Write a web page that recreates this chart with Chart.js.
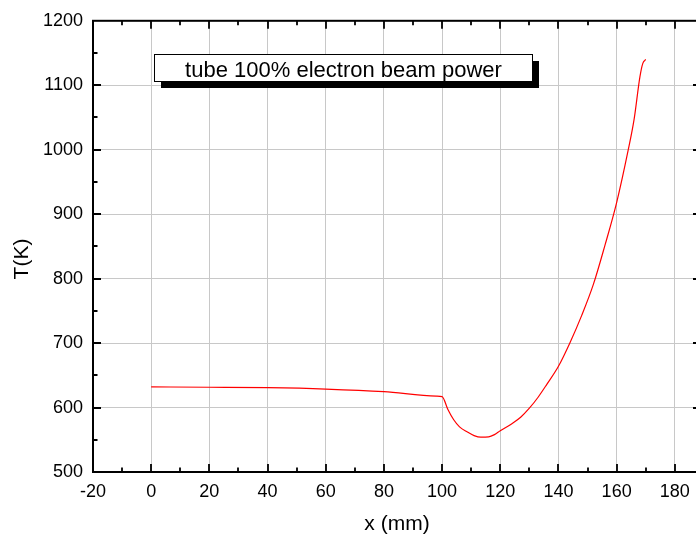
<!DOCTYPE html>
<html>
<head>
<meta charset="utf-8">
<title>T(K)</title>
<script src="https://cdn.jsdelivr.net/npm/chart.js@4/dist/chart.umd.min.js"></script>
<style>
  html, body { margin: 0; padding: 0; background: #fff; overflow: hidden; }
  canvas { display: block; }
</style>
</head>
<body>
<canvas id="grafico" width="704" height="538"></canvas>
<script>
// posicion a lo largo del tubo (mm) y temperatura (K)
const posX = [0, 20, 40, 60, 80, 98, 100, 102, 104, 106, 108.7, 111, 113.3, 116, 118, 120, 124, 127,
  130, 133, 136, 140, 144, 148, 152, 156, 160, 164, 166, 168, 169, 170];
const temperatura = [632, 631.5, 630.8, 628.7, 624.6, 617.8, 617, 597, 581, 570, 562, 556.5, 554, 554.5, 558, 564, 575, 585,
  599, 616, 636, 664, 701, 743, 791, 852, 918, 1000, 1047, 1113, 1134, 1140];

const ticksX = [-20, 0, 20, 40, 60, 80, 100, 120, 140, 160, 180];
const ticksY = [500, 600, 700, 800, 900, 1000, 1100, 1200];

const etiquetaLeyenda = "tube 100% electron beam power";
const tituloX = "x (mm)";
const tituloY = "T(K)";

const fuente = "'Liberation Sans', Arial, sans-serif";

function colorGrilla(ctx) {
  // sin linea de grilla sobre el marco
  const v = ctx.tick ? ctx.tick.value : null;
  if (v === -20 || v === 500 || v === 1200) return "rgba(0,0,0,0)";
  return "#c8c8c8";
}

// marco negro con marcas hacia adentro en los cuatro lados
const marco = {
  id: "marco",
  afterDraw(chart) {
    const ctx = chart.ctx;
    const a = chart.chartArea;
    const sx = chart.scales.x;
    const sy = chart.scales.y;
    ctx.save();
    ctx.strokeStyle = "#000";
    ctx.lineWidth = 2;
    ctx.strokeRect(a.left, a.top, a.right - a.left, a.bottom - a.top);

    ctx.lineWidth = 1.8;
    ctx.beginPath();
    for (let i = 0; i < ticksX.length; i++) {
      const v = ticksX[i];
      for (const [val, largo] of [[v, 8], [v + 10, 4.5]]) {
        if (val <= sx.min || val >= sx.max) continue;
        const px = Math.round(sx.getPixelForValue(val));
        ctx.moveTo(px, a.bottom); ctx.lineTo(px, a.bottom - largo);
        ctx.moveTo(px, a.top); ctx.lineTo(px, a.top + largo);
      }
    }
    for (let i = 0; i < ticksY.length; i++) {
      const v = ticksY[i];
      for (const [val, largo] of [[v, 8], [v + 50, 4.5]]) {
        if (val <= sy.min || val >= sy.max) continue;
        const py = Math.round(sy.getPixelForValue(val));
        ctx.moveTo(a.left, py); ctx.lineTo(a.left + largo, py);
        ctx.moveTo(a.right, py); ctx.lineTo(a.right - largo, py);
      }
    }
    ctx.stroke();

    // titulo del eje y
    ctx.fillStyle = "#000";
    ctx.font = "21px " + fuente;
    ctx.translate(22, 259);
    ctx.rotate(-Math.PI / 2);
    ctx.textAlign = "center";
    ctx.textBaseline = "middle";
    ctx.fillText(tituloY, 0, 0);
    ctx.restore();
  }
};

// cuadro de leyenda con sombra
const leyenda = {
  id: "leyenda",
  afterDraw(chart) {
    const ctx = chart.ctx;
    ctx.save();
    ctx.fillStyle = "#000";
    ctx.fillRect(161, 61, 378, 27);
    ctx.fillStyle = "#fff";
    ctx.fillRect(154, 54, 378, 27);
    ctx.strokeStyle = "#000";
    ctx.lineWidth = 1;
    ctx.strokeRect(154.5, 54.5, 378, 27);
    ctx.fillStyle = "#000";
    ctx.font = "22px " + fuente;
    ctx.textAlign = "center";
    ctx.textBaseline = "alphabetic";
    ctx.fillText(etiquetaLeyenda, 343.5, 77);
    ctx.restore();
  }
};

const puntos = posX.map((x, i) => ({ x: x, y: temperatura[i] }));

const config = {
  type: "line",
  data: {
    datasets: [{
      data: puntos,
      borderColor: "#ff0000",
      borderWidth: 1.2,
      pointRadius: 0,
      cubicInterpolationMode: "monotone",
      fill: false
    }]
  },
  options: {
    responsive: false,
    animation: false,
    devicePixelRatio: 1,
    layout: { padding: { top: 17, right: 3, left: 0, bottom: 0 } },
    plugins: { legend: { display: false }, tooltip: { enabled: false } },
    scales: {
      x: {
        type: "linear",
        min: -20,
        max: 189,
        afterBuildTicks: (s) => { s.ticks = ticksX.map(v => ({ value: v })); },
        afterFit: (s) => { s.height = 66; },
        grid: { color: colorGrilla, lineWidth: 1, drawTicks: false },
        border: { display: false },
        ticks: {
          padding: 9, color: "#000", autoSkip: false, maxRotation: 0,
          font: { family: fuente, size: 18 },
          callback: (v) => String(v)
        },
        title: {
          display: true, text: tituloX, color: "#000",
          font: { family: fuente, size: 21 },
          padding: { top: 0, bottom: 1 }
        }
      },
      y: {
        type: "linear",
        min: 500,
        max: 1200,
        afterBuildTicks: (s) => { s.ticks = ticksY.map(v => ({ value: v })); },
        afterFit: (s) => { s.width = 93; },
        grid: { color: colorGrilla, lineWidth: 1, drawTicks: false },
        border: { display: false },
        ticks: {
          padding: 10, color: "#000", autoSkip: false,
          font: { family: fuente, size: 18 },
          callback: (v) => String(v)
        }
      }
    }
  },
  plugins: [marco, leyenda]
};

const miGrafico = new Chart(document.getElementById("grafico"), config);
</script>
</body>
</html>
